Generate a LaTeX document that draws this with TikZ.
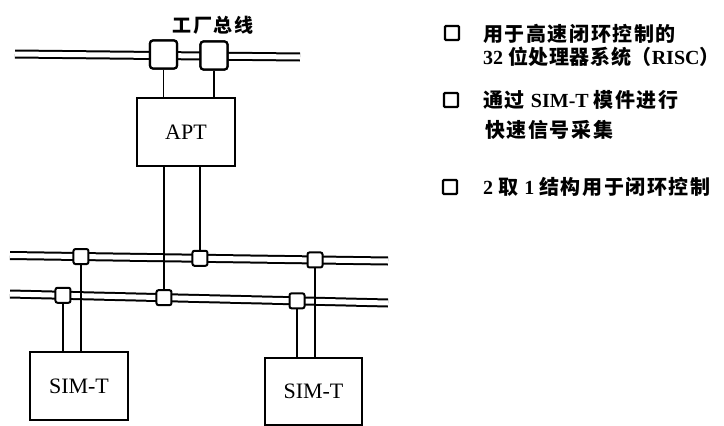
\documentclass[tikz,border=0pt]{standalone}
\usepackage{fontspec}
\setmainfont{Liberation Serif}
\newfontfamily\cjk{Noto Sans CJK SC}[LetterSpace=8]
\newfontfamily\cjkn{Noto Sans CJK SC}[LetterSpace=3]
\newfontfamily\lat{Liberation Serif}
\usetikzlibrary{calc}
\begin{document}
\begin{tikzpicture}[x=1pt,y=-1pt,
  bus/.style={line width=2pt,double=white,double distance=5pt},
  tap/.style={draw,rounded corners=2pt,fill=white,line width=2pt,minimum size=15pt,inner sep=0pt},
  bigtap/.style={draw,rounded corners=3pt,fill=white,line width=2.2pt,minimum width=27pt,minimum height=28pt,inner sep=0pt},
  unit/.style={draw,line width=2.2pt,minimum width=98pt,minimum height=68pt,inner sep=0pt,font=\lat\fontsize{22}{24}\selectfont},
  conn/.style={line width=1.1pt},
  bul/.style={draw,line width=2.3pt,rounded corners=1pt,minimum size=14pt,inner sep=0pt},
  txt/.style={anchor=west,inner sep=0pt,font=\fontsize{20}{23}\selectfont\bfseries}]
\useasboundingbox (0,0) rectangle (724,426);
% buses
\coordinate (tl) at (15,54);
\coordinate (tr) at (300,57);
\coordinate (al) at (10,255.5);
\coordinate (ar) at (388,261);
\coordinate (bl) at (10,294);
\coordinate (br) at (388,303);
\draw[bus] (tl) -- (tr);
\draw[bus] (al) -- (ar);
\draw[bus] (bl) -- (br);
% nodes
\node[unit] (apt) at (186,132) {APT};
\node[unit] (s1) at (79,386) {SIM-T};
\node[unit,minimum width=97pt,minimum height=67pt] (s2) at (313.5,391.5) {SIM-T};
\node[bigtap] (t1) at (163.5,54.5) {};
\node[bigtap] (t2) at (214,55.5) {};
\path (al) -- (ar) coordinate[pos=0.1878] (pa1) coordinate[pos=0.5026] (pa2) coordinate[pos=0.8069] (pa3);
\path (bl) -- (br) coordinate[pos=0.1402] (pb1) coordinate[pos=0.4074] (pb2) coordinate[pos=0.7593] (pb3);
% connectors
\draw[conn] (t1.south) -- (t1.south |- apt.north);
\draw[conn] (t2.south) -- (t2.south |- apt.north);
\draw[conn] (pb2) -- (pb2 |- apt.south);
\draw[conn] (pa2) -- (pa2 |- apt.south);
\draw[conn] (pb1) -- (pb1 |- s1.north);
\draw[conn] (pa1) -- (pa1 |- s1.north);
\draw[conn] (pb3) -- (pb3 |- s2.north);
\draw[conn] (pa3) -- (pa3 |- s2.north);
% taps
\node[tap] (a1) at (pa1) {};
\node[tap] (a2) at (pa2) {};
\node[tap] (a3) at (pa3) {};
\node[tap] (b1) at (pb1) {};
\node[tap] (b2) at (pb2) {};
\node[tap] (b3) at (pb3) {};
\node[bigtap] at (t1) {};
\node[bigtap] at (t2) {};
% title
\node[inner sep=0pt,font=\cjk\fontsize{19}{21}\selectfont\bfseries] (title) at (213,25) {工厂总线};
% legend
\node[bul] (q1) at (452,33) {};
\node[bul] (q2) at (451,100) {};
\node[bul] (q3) at (450,187) {};
\node[txt] (l1) at (483,34) {\cjk 用于高速闭环控制的};
\node[txt] (l2) at (483,57) {\lat 32 \cjkn 位处理器系统（\lat RISC\cjkn ）};
\node[txt] (l3) at (483,100) {\cjk 通过 \lat SIM-T \cjk 模件进行};
\node[txt] (l4) at (485,130) {\cjk 快速信号采集};
\node[txt] (l5) at (483,187) {\lat 2 \cjk 取 \lat 1 \cjk 结构用于闭环控制};
\end{tikzpicture}
\end{document}
